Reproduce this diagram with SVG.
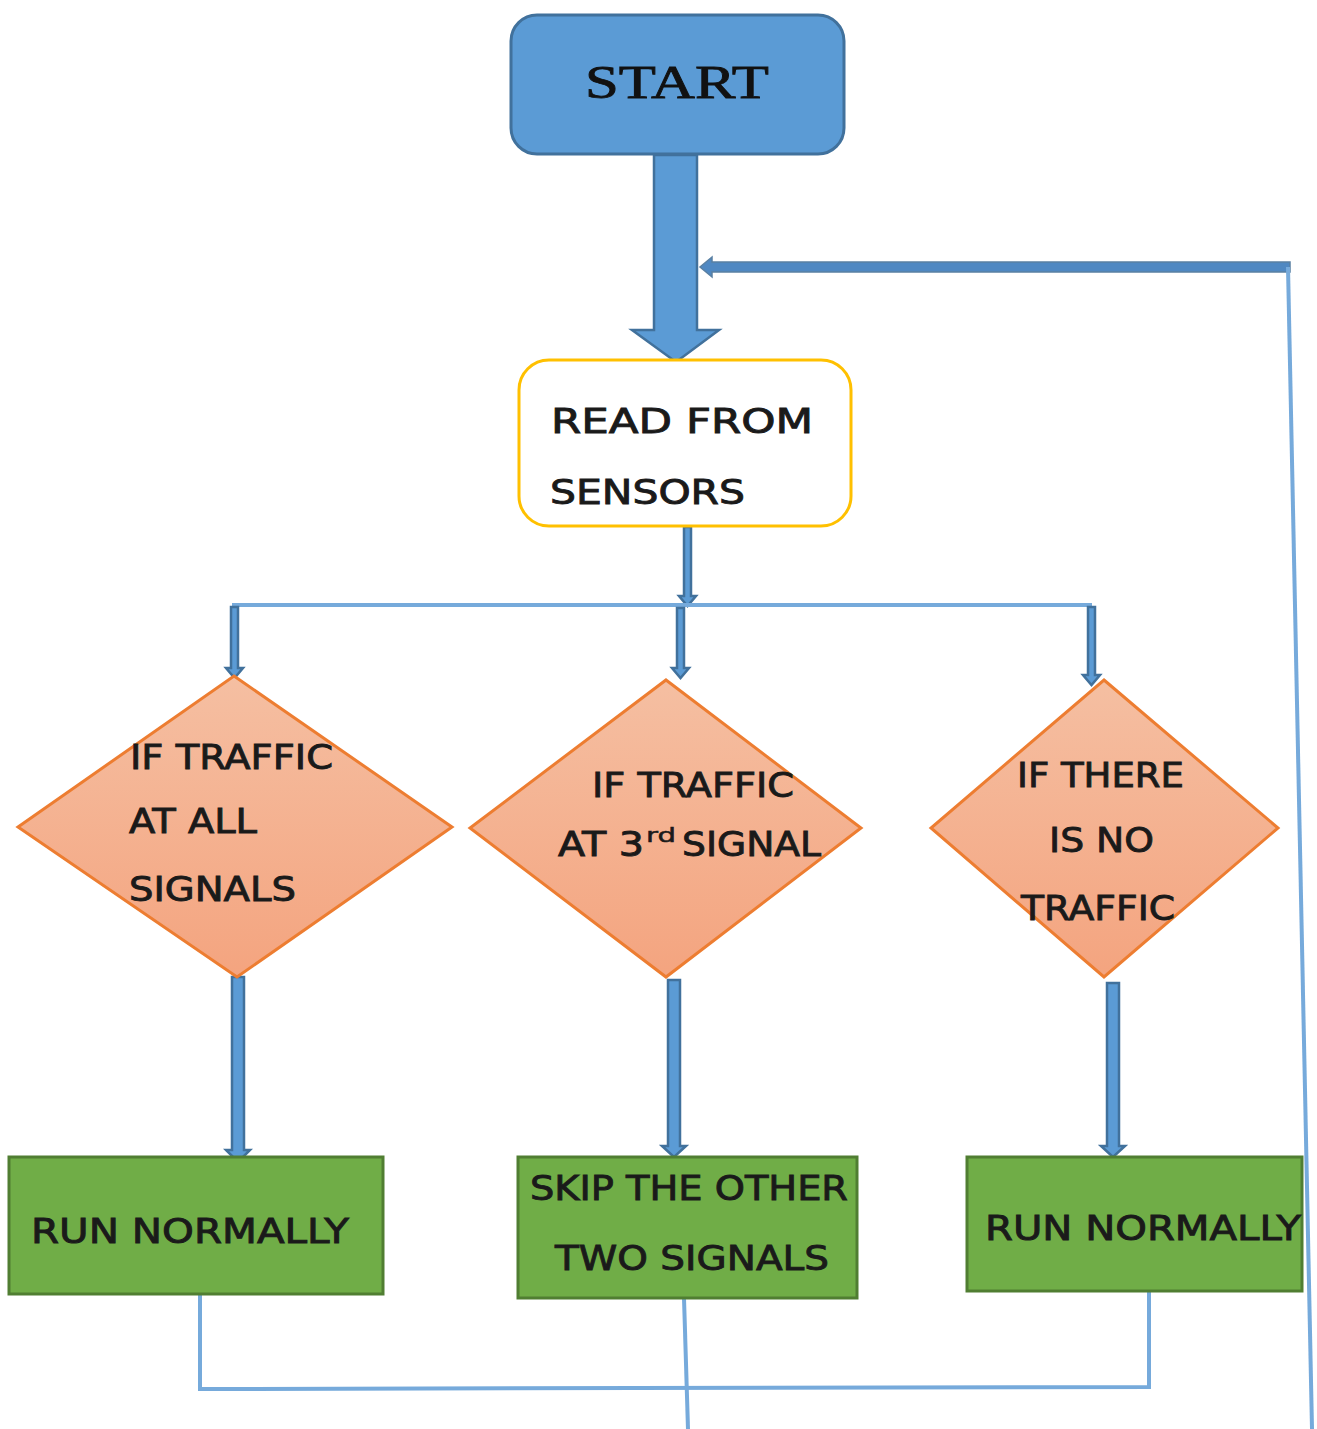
<svg xmlns="http://www.w3.org/2000/svg" width="1317" height="1429" viewBox="0 0 1317 1429">
<defs>
<linearGradient id="dg" x1="0" y1="0" x2="0" y2="1">
<stop offset="0" stop-color="#f5bfa2"/>
<stop offset="1" stop-color="#f4a47f"/>
</linearGradient>
<style>
.t{font-family:"DejaVu Sans","Liberation Sans",sans-serif;font-size:34px;fill:#1a1a1a;font-weight:normal;stroke:#1a1a1a;stroke-width:0.9}
.dia{fill:url(#dg);stroke:#ed7d31;stroke-width:3}
.grn{fill:#70ad47;stroke:#507e32;stroke-width:3}
.blk{fill:#5b9bd5;stroke:#41719c;stroke-width:2.5}
.thin{fill:none;stroke:#76aadb;stroke-width:4}
</style>
</defs>
<g id="connectors">
<polygon class="blk" points="654,155 697,155 697,330 719,330 676,362 632,330 654,330"/>
<polygon points="712,262 1290,262 1290,272 712,272 712,277 700,267 712,257" fill="#4f88c2" stroke="#5a80a3" stroke-width="1.5"/>
<polyline class="thin" points="1288,267 1312,1429"/>
<polygon class="blk" points="684,527 691,527 691,596 696,596 687.5,606 679,596 684,596"/>
<polyline class="thin" points="232,605 1092,605"/>
<polygon class="blk" points="231,607 238,607 238,668 243,668 234.5,678 226,668 231,668"/>
<polygon class="blk" points="677,608 684,608 684,668 689,668 680.5,678 672,668 677,668"/>
<polygon class="blk" points="1088,607 1095,607 1095,675 1100,675 1091.5,685 1083,675 1088,675"/>
<polygon class="blk" points="232,977 244,977 244,1150 250,1150 238,1162 226,1150 232,1150"/>
<polygon class="blk" points="668,980 680,980 680,1146 686,1146 674,1157 662,1146 668,1146"/>
<polygon class="blk" points="1107,983 1119,983 1119,1146 1125,1146 1113,1157 1101,1146 1107,1146"/>
<polyline class="thin" points="200,1294 200,1389 1149,1387 1149,1291"/>
<polyline class="thin" points="684,1298 688,1429"/>
</g>
<g id="start">
<rect x="511" y="15" width="333" height="139" rx="26" fill="#5b9bd5" stroke="#41719c" stroke-width="3"/>
<text x="677" y="98" text-anchor="middle" font-family="'Liberation Serif',serif" font-size="46" fill="#111" stroke="#111" stroke-width="0.8" textLength="184" lengthAdjust="spacingAndGlyphs">START</text>
</g>
<g id="read">
<rect x="519" y="360" width="332" height="166" rx="30" fill="#fff" stroke="#ffc000" stroke-width="3"/>
<text class="t" x="551" y="433" textLength="262" lengthAdjust="spacingAndGlyphs">READ FROM</text>
<text class="t" x="550" y="504" textLength="195" lengthAdjust="spacingAndGlyphs">SENSORS</text>
</g>
<g id="d1">
<polygon class="dia" points="234,676 452,827 237,977 18,827"/>
<text class="t" x="130" y="769" textLength="203" lengthAdjust="spacingAndGlyphs">IF TRAFFIC</text>
<text class="t" x="129" y="833" textLength="128" lengthAdjust="spacingAndGlyphs">AT ALL</text>
<text class="t" x="129" y="901" textLength="167" lengthAdjust="spacingAndGlyphs">SIGNALS</text>
</g>
<g id="d2">
<polygon class="dia" points="666,680 861,828 666,977 470,828"/>
<text class="t" x="592" y="797" textLength="202" lengthAdjust="spacingAndGlyphs">IF TRAFFIC</text>
<text class="t" x="558" y="856" textLength="86" lengthAdjust="spacingAndGlyphs">AT 3</text>
<text class="t" x="646" y="842" font-size="20" style="font-size:20px;stroke-width:0.5" textLength="30" lengthAdjust="spacingAndGlyphs">rd</text>
<text class="t" x="682" y="856" textLength="139" lengthAdjust="spacingAndGlyphs">SIGNAL</text>
</g>
<g id="d3">
<polygon class="dia" points="1104,680 1278,828 1104,977 931,828"/>
<text class="t" x="1017" y="787" textLength="167" lengthAdjust="spacingAndGlyphs">IF THERE</text>
<text class="t" x="1049" y="852" textLength="105" lengthAdjust="spacingAndGlyphs">IS NO</text>
<text class="t" x="1021" y="920" textLength="154" lengthAdjust="spacingAndGlyphs">TRAFFIC</text>
</g>
<g id="b1">
<rect class="grn" x="9" y="1157" width="374" height="137"/>
<text class="t" x="31" y="1243" textLength="318" lengthAdjust="spacingAndGlyphs">RUN NORMALLY</text>
</g>
<g id="b2">
<rect class="grn" x="518" y="1157" width="339" height="141"/>
<text class="t" x="530" y="1200" textLength="318" lengthAdjust="spacingAndGlyphs">SKIP THE OTHER</text>
<text class="t" x="555" y="1270" textLength="274" lengthAdjust="spacingAndGlyphs">TWO SIGNALS</text>
</g>
<g id="b3">
<rect class="grn" x="967" y="1157" width="335" height="134"/>
<text class="t" x="985" y="1240" textLength="316" lengthAdjust="spacingAndGlyphs">RUN NORMALLY</text>
</g>
</svg>
